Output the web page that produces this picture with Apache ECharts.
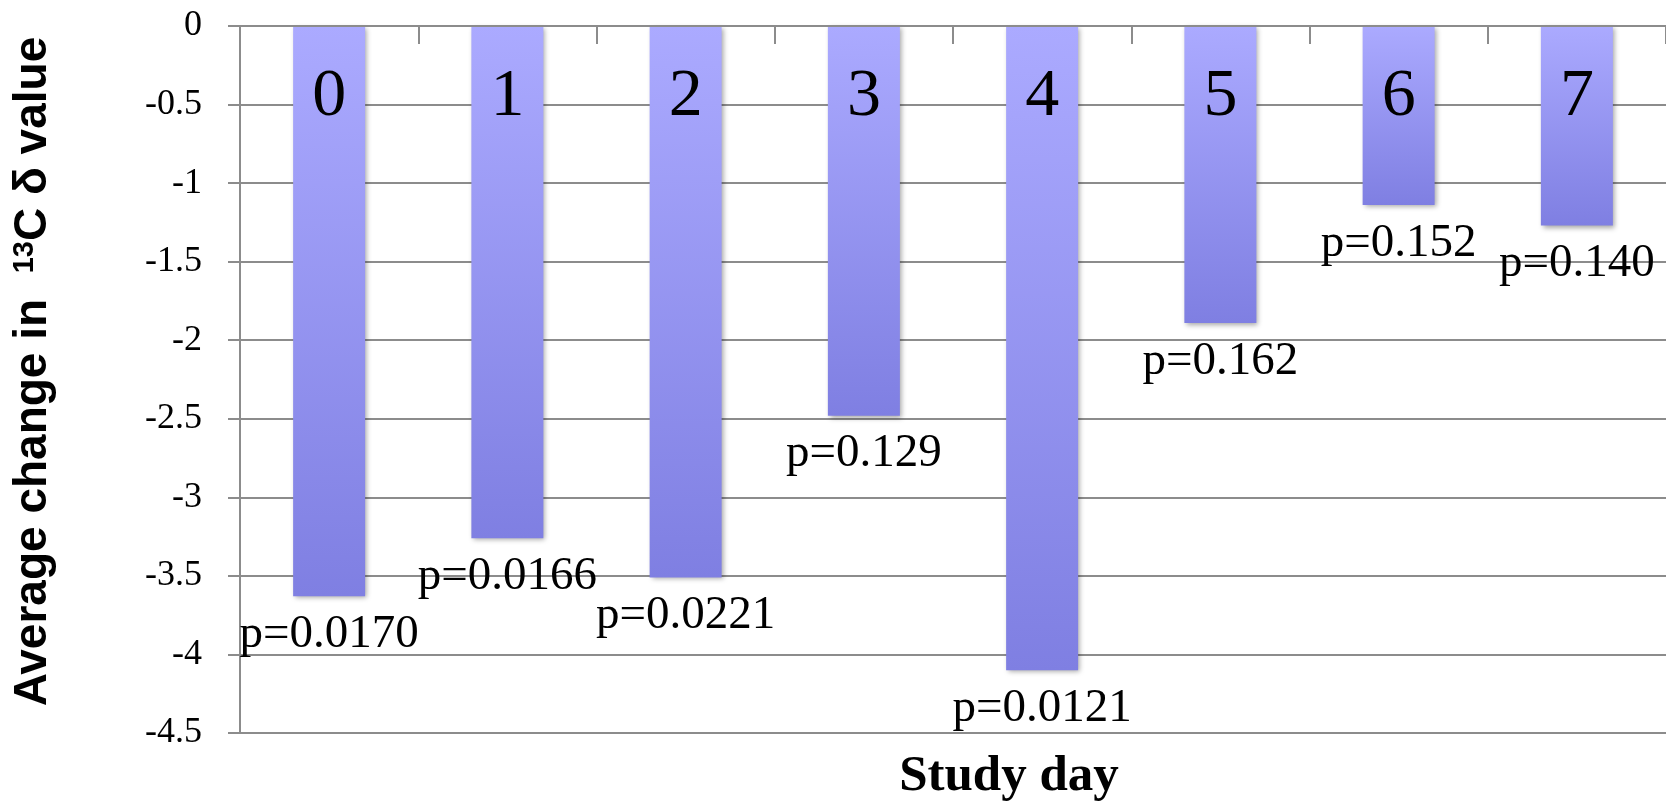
<!DOCTYPE html>
<html>
<head>
<meta charset="utf-8">
<script src="https://cdn.jsdelivr.net/npm/echarts@6/dist/echarts.min.js"></script>
<style>
  html, body { margin: 0; padding: 0; background: #fff; }
  #chart { width: 1666px; height: 804px; }
</style>
</head>
<body>
<div id="chart"></div>
<script>
// study days and the average change of the 13C delta value
var days = ['0', '1', '2', '3', '4', '5', '6', '7'];
var avgChange = [-3.63, -3.26, -3.51, -2.48, -4.10, -1.89, -1.14, -1.27];
var pValues = ['p=0.0170', 'p=0.0166', 'p=0.0221', 'p=0.129', 'p=0.0121', 'p=0.162', 'p=0.152', 'p=0.140'];

var gridColor = '#8c8c8c';
var serif = '"Liberation Serif", "Times New Roman", serif';

var chart = echarts.init(document.getElementById('chart'));
var option = {
    animation: false,
    grid: {
        left: 240,
        right: 0,
        top: 26,
        bottom: 71
    },
    xAxis: {
        type: 'category',
        position: 'top',
        z: 10,
        data: days,
        axisLine: {
            onZero: false,
            lineStyle: { color: gridColor, width: 2 }
        },
        axisTick: {
            show: true,
            inside: true,
            length: 18,
            lineStyle: { color: gridColor, width: 2 }
        },
        axisLabel: {
            show: true,
            inside: true,
            margin: 37,
            fontFamily: serif,
            fontSize: 68,
            color: '#000'
        },
        splitLine: { show: false }
    },
    yAxis: {
        type: 'value',
        min: -4.5,
        max: 0,
        interval: 0.5,
        name: 'Average change in  {sup|13}C δ value',
        nameLocation: 'middle',
        nameRotate: 90,
        nameGap: 184,
        nameTextStyle: {
            fontFamily: '"Liberation Sans", Arial, sans-serif',
            fontWeight: 'bold',
            fontSize: 46,
            color: '#000',
            padding: [0, 0, 0, 16],
            rich: {
                sup: {
                    fontFamily: '"Liberation Sans", Arial, sans-serif',
                    fontWeight: 'bold',
                    fontSize: 29,
                    verticalAlign: 'top',
                    lineHeight: 46,
                    padding: [0, 0, 14, 0]
                }
            }
        },
        axisLine: {
            show: true,
            lineStyle: { color: gridColor, width: 2 }
        },
        axisTick: {
            show: true,
            length: 12,
            lineStyle: { color: gridColor, width: 2 }
        },
        axisLabel: {
            margin: 38,
            fontFamily: serif,
            fontSize: 36,
            color: '#000'
        },
        splitLine: {
            lineStyle: { color: gridColor, width: 2 }
        }
    },
    graphic: [{
        type: 'text',
        x: 1009,
        y: 777,
        style: {
            text: 'Study day',
            textAlign: 'center',
            textVerticalAlign: 'middle',
            fontFamily: serif,
            fontWeight: 'bold',
            fontSize: 51,
            fill: '#000'
        }
    }],
    series: [{
        type: 'bar',
        data: avgChange,
        barWidth: 72,
        itemStyle: {
            color: new echarts.graphic.LinearGradient(0, 0, 0, 1, [
                { offset: 0, color: '#abaaff' },
                { offset: 1, color: '#7f7fe2' }
            ]),
            shadowColor: 'rgba(0, 0, 0, 0.35)',
            shadowBlur: 5,
            shadowOffsetX: 2,
            shadowOffsetY: 2
        },
        label: {
            show: true,
            position: 'bottom',
            distance: 15,
            fontFamily: serif,
            fontSize: 47,
            color: '#000',
            formatter: function (p) {
                return pValues[p.dataIndex];
            }
        }
    }]
};
chart.setOption(option);
</script>
</body>
</html>
